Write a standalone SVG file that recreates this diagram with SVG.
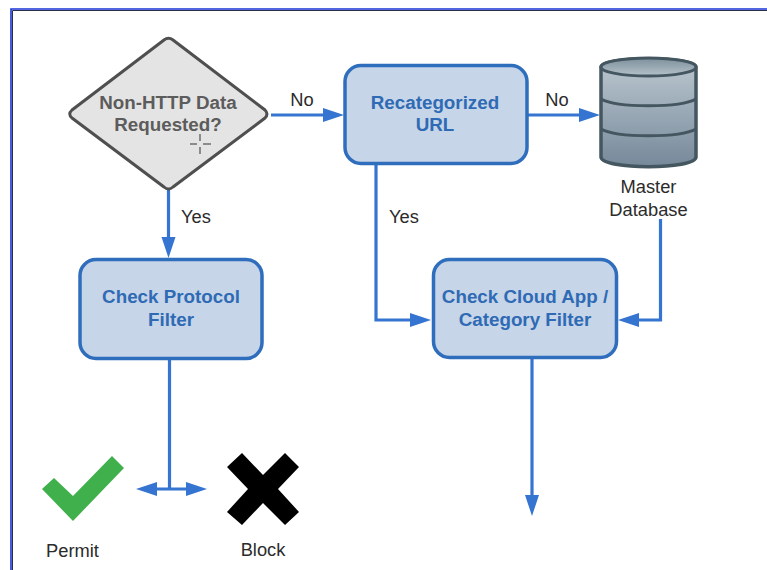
<svg xmlns="http://www.w3.org/2000/svg" width="767" height="570" viewBox="0 0 767 570">
<style>
.box{fill:#c6d5e8;stroke:#2f6ebd;stroke-width:3.500}
.bt{font:bold 18.800px "Liberation Sans",Arial,sans-serif;fill:#2f6ab4;text-anchor:middle}
.lb{font:18.300px "Liberation Sans",Arial,sans-serif;fill:#2b2b2b;text-anchor:middle}
.c{fill:none;stroke:#3574d0;stroke-width:3.200}
.ds{fill:url(#cyl);stroke:#44565f;stroke-width:3.500}
</style>
<defs>
<marker id="a" markerUnits="userSpaceOnUse" markerWidth="22" markerHeight="16" refX="15" refY="7" orient="auto-start-reverse"><path d="M0 0L21 7L0 14Z" fill="#3574d0"/></marker>
<linearGradient id="cyl" x1="0" y1="0" x2="0" y2="1"><stop offset="0" stop-color="#bcc8d0"/><stop offset="1" stop-color="#76899a"/></linearGradient>
<linearGradient id="cap" x1="0" y1="0" x2="0" y2="1"><stop offset="0" stop-color="#7d909c"/><stop offset="1" stop-color="#b5c2ca"/></linearGradient>
</defs>
<g id="frame" fill="none">
<path d="M12.500 570V10.500H767" stroke="#2a2f4a" stroke-width="1"/>
<path d="M11 570V9H767" stroke="#1a35d8" stroke-width="1.600"/>
</g>
<g id="connectors">
<path class="c" d="M271 115H338" marker-end="url(#a)"/>
<path class="c" d="M528 115H594" marker-end="url(#a)"/>
<path class="c" d="M168.500 189V252" marker-end="url(#a)"/>
<path class="c" d="M376 164V320H425" marker-end="url(#a)"/>
<path class="c" d="M660.500 219V320H624" marker-end="url(#a)"/>
<path class="c" d="M532 358V510" marker-end="url(#a)"/>
<path class="c" d="M169.500 359V489"/>
<path class="c" d="M142 489H201" marker-start="url(#a)" marker-end="url(#a)"/>
</g>
<g id="decision">
<path d="M164 40Q168.500 36.500 173 40L265 110Q269 114 265 118L173 187Q168.500 191 164 187L72 118Q67.500 114 72 110Z" fill="#e4e4e4" stroke="#4f4f4f" stroke-width="3"/>
<text class="bt" style="fill:#5c5c5c" x="168" y="109">Non-HTTP Data</text>
<text class="bt" style="fill:#5c5c5c" x="168" y="131">Requested?</text>
<path d="M200 134V141M200 147V154M190 144H197M203 144H211" stroke="#333" stroke-width="1" fill="none"/>
</g>
<g id="recategorized">
<rect class="box" x="345" y="65.500" width="182" height="98" rx="16"/>
<text class="bt" x="435" y="108.500">Recategorized</text>
<text class="bt" x="435" y="131">URL</text>
</g>
<g id="database">
<path class="ds" d="M601 67C601 56 696 56 696 67V157C696 170 601 170 601 157Z"/>
<ellipse cx="648.500" cy="67" rx="47.500" ry="9" fill="url(#cap)" stroke="#44565f" stroke-width="3"/>
<path d="M601 99C617 108 680 108 696 99M601 129C617 138 680 138 696 129" fill="none" stroke="#44565f" stroke-width="3"/>
<text class="lb" x="648.500" y="193">Master</text>
<text class="lb" x="648.500" y="216">Database</text>
</g>
<g id="protocol">
<rect class="box" x="80" y="259.500" width="182" height="99" rx="16"/>
<text class="bt" x="171" y="303">Check Protocol</text>
<text class="bt" x="171" y="326">Filter</text>
</g>
<g id="cloud">
<rect class="box" x="433.500" y="259.500" width="183" height="98" rx="16"/>
<text class="bt" x="525" y="303">Check Cloud App /</text>
<text class="bt" x="525" y="326">Category Filter</text>
</g>
<g id="permit">
<path d="M42 489L54 478L73 496L112 456L124 468L73 521Z" fill="#3fb04b"/>
<text class="lb" x="72.500" y="557">Permit</text>
</g>
<g id="block">
<path d="M227 467L242 453L263 475L285 453L299 467L278 489L299 512L285 525L263 503L242 525L227 512L248 489Z" fill="#000"/>
<text class="lb" x="263" y="556">Block</text>
</g>
<g id="labels">
<text class="lb" x="302" y="106">No</text>
<text class="lb" x="557" y="106">No</text>
<text class="lb" x="196" y="223">Yes</text>
<text class="lb" x="404" y="223">Yes</text>
</g>
</svg>
